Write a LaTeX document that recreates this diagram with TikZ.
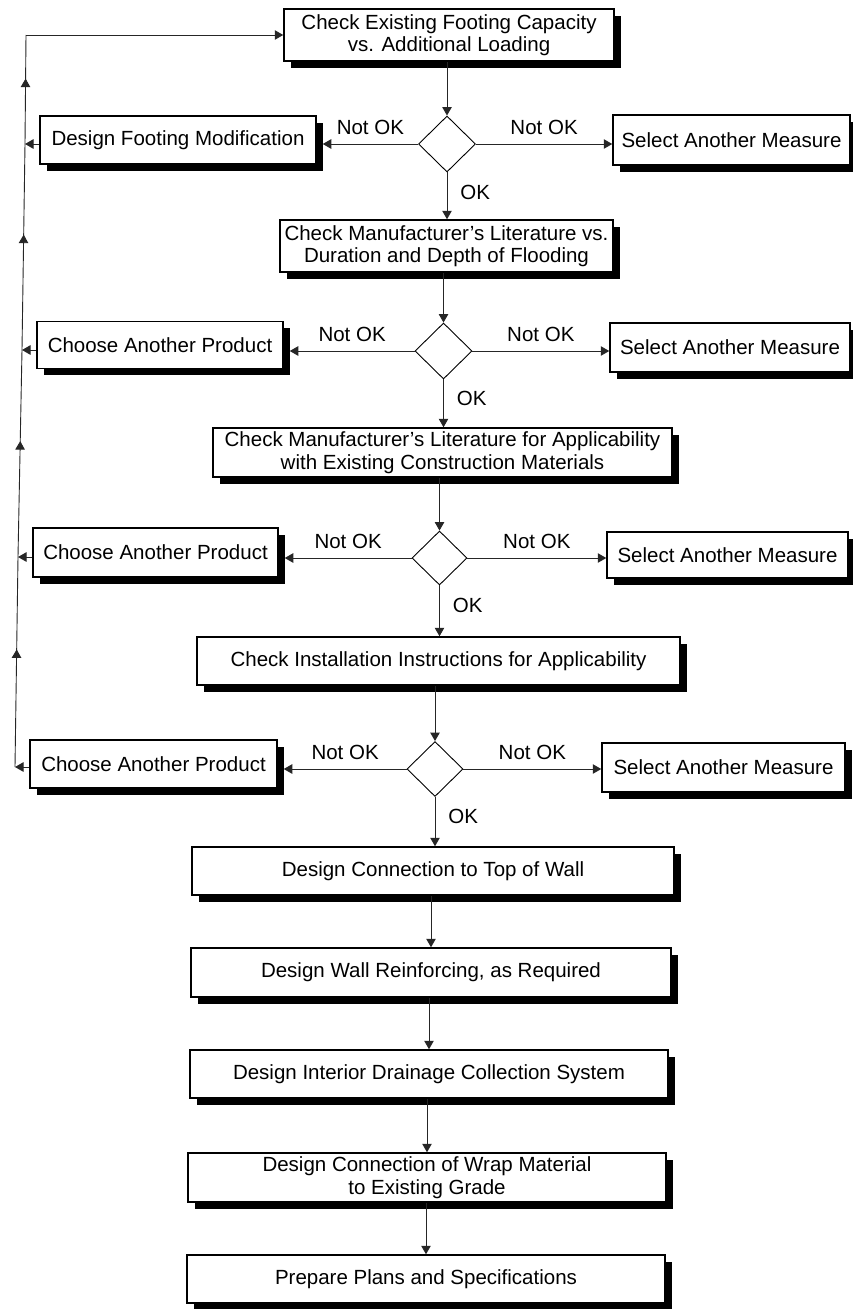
\documentclass[tikz,border=0pt]{standalone}
\usepackage{fontspec}
\setmainfont{Liberation Sans}
\usetikzlibrary{shapes.geometric,shadows,arrows.meta,decorations.markings}

\begin{document}
\begin{tikzpicture}[x=1pt,y=-1pt,
  stepbox/.style={draw=black, line width=1.5pt, fill=white, rectangle, inner sep=2pt,
    align=center, font=\fontsize{20.5}{22.5}\selectfont,
    drop shadow={shadow xshift=6.5pt, shadow yshift=-6.5pt, fill=black, opacity=1}},
  decision/.style={draw=black, line width=0.9pt, diamond, shape aspect=1,
    minimum width=57pt, minimum height=56pt, inner sep=0pt, fill=white},
  conn/.style={draw=black!85, line width=0.9pt},
  arr/.style={conn, -{Triangle[length=8.5pt,width=9.5pt]}},
  midarrow/.style={conn, postaction={decorate}, decoration={markings,
    mark=at position #1 with {\arrow{Triangle[length=8.5pt,width=9.5pt]}}}},
  midarrow/.default=0.56,
  lbl/.style={font=\fontsize{20.5}{22.5}\selectfont, inner sep=0pt},
]
\useasboundingbox (0,0) rectangle (852,1309);

% main column
\node[stepbox, minimum width=330pt, minimum height=52pt] (b1) at (449,35)
  {Check Existing Footing Capacity\\vs. Additional Loading};
\node[decision] (d1) at (447,144) {};
\node[stepbox, minimum width=333pt, minimum height=52pt] (b2) at (446.5,246)
  {Check Manufacturer's Literature vs.\\Duration and Depth of Flooding};
\node[decision] (d2) at (443.5,351) {};
\node[stepbox, minimum width=459pt, minimum height=49pt] (b3) at (442.5,452.5)
  {Check Manufacturer's Literature for Applicability\\with Existing Construction Materials};
\node[decision, minimum height=54pt, minimum width=55pt] (d3) at (439.5,558) {};
\node[stepbox, minimum width=483pt, minimum height=48pt] (b4) at (438.5,661)
  {Check Installation Instructions for Applicability};
\node[decision, minimum height=55pt, minimum width=56pt] (d4) at (435,769) {};
\node[stepbox, minimum width=482pt, minimum height=48pt] (b5) at (433,871)
  {Design Connection to Top of Wall};
\node[stepbox, minimum width=480pt, minimum height=49pt] (b6) at (431,972.5)
  {Design Wall Reinforcing, as Required};
\node[stepbox, minimum width=478pt, minimum height=48pt] (b7) at (429,1074)
  {Design Interior Drainage Collection System};
\node[stepbox, minimum width=478pt, minimum height=49pt] (b8) at (427,1177.5)
  {Design Connection of Wrap Material\\to Existing Grade};
\node[stepbox, minimum width=478pt, minimum height=48pt] (b9) at (426,1279)
  {Prepare Plans and Specifications};

% left column
\node[stepbox, minimum width=276pt, minimum height=48pt] (l1) at (178,140)
  {Design Footing Modification};
\node[stepbox, minimum width=246pt, minimum height=47pt] (l2) at (160,345)
  {Choose Another Product};
\node[stepbox, minimum width=245pt, minimum height=49pt] (l3) at (155.5,552.5)
  {Choose Another Product};
\node[stepbox, minimum width=247pt, minimum height=48pt] (l4) at (153.5,764)
  {Choose Another Product};

% right column
\node[stepbox, minimum width=237pt, minimum height=50pt] (r1) at (731.5,140)
  {Select Another Measure};
\node[stepbox, minimum width=240pt, minimum height=49pt] (r2) at (730,347.5)
  {Select Another Measure};
\node[stepbox, minimum width=241pt, minimum height=46pt] (r3) at (727.5,555)
  {Select Another Measure};
\node[stepbox, minimum width=243pt, minimum height=49pt] (r4) at (723.5,767.5)
  {Select Another Measure};

% main flow
\draw[arr] (d1.north |- b1.south) -- (d1.north);
\draw[arr] (d1.south) -- (d1.south |- b2.north) node[pos=0.42, right=13pt, lbl] {OK};
\draw[arr] (d2.north |- b2.south) -- (d2.north);
\draw[arr] (d2.south) -- (d2.south |- b3.north) node[pos=0.4, right=13pt, lbl] {OK};
\draw[arr] (d3.north |- b3.south) -- (d3.north);
\draw[arr] (d3.south) -- (d3.south |- b4.north) node[pos=0.4, right=13pt, lbl] {OK};
\draw[arr] (d4.north |- b4.south) -- (d4.north);
\draw[arr] (d4.south) -- (d4.south |- b5.north) node[pos=0.4, right=13pt, lbl] {OK};
\draw[arr] (b6.north |- b5.south) -- (b6.north);
\draw[arr] (b7.north |- b6.south) -- (b7.north);
\draw[arr] (b8.north |- b7.south) -- (b8.north);
\draw[arr] (b9.north |- b8.south) -- (b9.north);

% "Not OK" branches
\foreach \i in {1,2,3,4}{
  \draw[arr] (d\i.west) -- ([xshift=6pt]d\i.west -| l\i.east)
    node[midway, above=9pt, lbl] {Not OK};
  \draw[arr] (d\i.east) -- (d\i.east -| r\i.west)
    node[midway, above=9pt, lbl] {Not OK};
}

% return path to the first check
\coordinate (fb0) at (26,35);
\coordinate (fb1) at (25,144);
\coordinate (fb2) at (22,350);
\coordinate (fb3) at (18,557);
\coordinate (fb4) at (15,767);
\draw[arr] (fb1 -| l1.west) -- (fb1);
\draw[arr] (fb2 -| l2.west) -- (fb2);
\draw[arr] (fb3 -| l3.west) -- (fb3);
\draw[arr] (fb4 -| l4.west) -- (fb4);
\draw[midarrow] (fb4) -- (fb3);
\draw[midarrow] (fb3) -- (fb2);
\draw[midarrow] (fb2) -- (fb1);
\draw[midarrow=0.6] (fb1) -- (fb0);
\draw[arr] (fb0) -- (b1.west);
\end{tikzpicture}
\end{document}
